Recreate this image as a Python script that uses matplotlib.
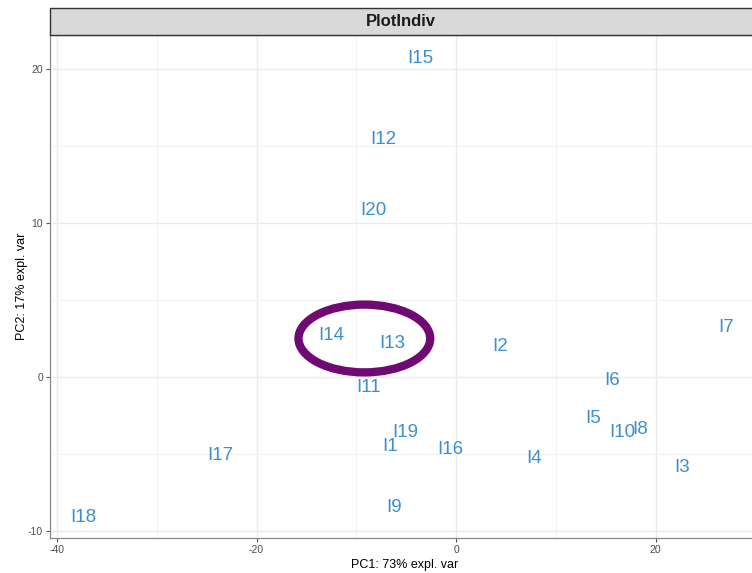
import matplotlib.pyplot as plt
from matplotlib.patches import Ellipse, Rectangle
from matplotlib.ticker import MultipleLocator

plt.rcParams['font.family'] = ['Liberation Sans', 'DejaVu Sans']
plt.rcParams['axes.unicode_minus'] = False

# sample coordinates on the first two components
names = ['I15', 'I12', 'I20', 'I14', 'I13', 'I2', 'I7', 'I6', 'I11', 'I5',
         'I10', 'I8', 'I19', 'I1', 'I16', 'I17', 'I4', 'I3', 'I9', 'I18']
pc1 = [-3.6, -7.3, -8.3, -12.5, -6.4, 4.4, 27.1, 15.6, -8.8, 13.7,
       16.7, 18.4, -5.1, -6.6, -0.6, -23.6, 7.8, 22.6, -6.2, -37.4]
pc2 = [20.7, 15.4, 10.8, 2.7, 2.2, 2.0, 3.2, -0.2, -0.7, -2.7,
       -3.6, -3.4, -3.6, -4.5, -4.7, -5.1, -5.3, -5.9, -8.5, -9.1]

# highlighted group
ring_center = (-9.2, 2.5)
ring_width = 13.2
ring_height = 4.4

fig = plt.figure(figsize=(7.52, 5.73), dpi=100)
ax = fig.add_axes([50 / 752, 35 / 573, 1.01 - 50 / 752, 503 / 573])
ax.set_xlim(-40.7, 30.4)
ax.set_ylim(-10.45, 22.2)

ax.xaxis.set_major_locator(MultipleLocator(20))
ax.xaxis.set_minor_locator(MultipleLocator(10))
ax.yaxis.set_major_locator(MultipleLocator(10))
ax.yaxis.set_minor_locator(MultipleLocator(5))
ax.grid(which='major', color='#ebebeb', linewidth=1.0)
ax.grid(which='minor', color='#f3f3f3', linewidth=0.8)
ax.set_axisbelow(True)
ax.tick_params(which='major', direction='out', length=3, width=0.8,
               color='#555555', labelcolor='#4d4d4d', labelsize=7.5, pad=2)
ax.tick_params(which='minor', length=0)
for side in ax.spines.values():
    side.set_color('#888888')
    side.set_linewidth(0.9)

for name, x, y in zip(names, pc1, pc2):
    ax.text(x, y, name, color='#3a8fd0', fontsize=13.5, ha='center', va='center')

ax.add_patch(Ellipse(ring_center, ring_width, ring_height, fill=False,
                     edgecolor='#6e0a72', linewidth=6))

ax.set_xlabel('PC1: 73% expl. var', fontsize=9, labelpad=3)
ax.set_ylabel('PC2: 17% expl. var', fontsize=9, labelpad=0)

# facet strip above the panel
strip = Rectangle((50 / 752, 1 - 35 / 573), 1.0, 27 / 573, transform=fig.transFigure,
                  facecolor='#d9d9d9', edgecolor='#333333', linewidth=1.0)
fig.patches.append(strip)
fig.text((50 / 752 + 1.0) / 2, 1 - 21.5 / 573, 'PlotIndiv', ha='center', va='center',
         fontsize=12, fontweight='bold', color='#1a1a1a')

fig.savefig('out.png', dpi=100)
